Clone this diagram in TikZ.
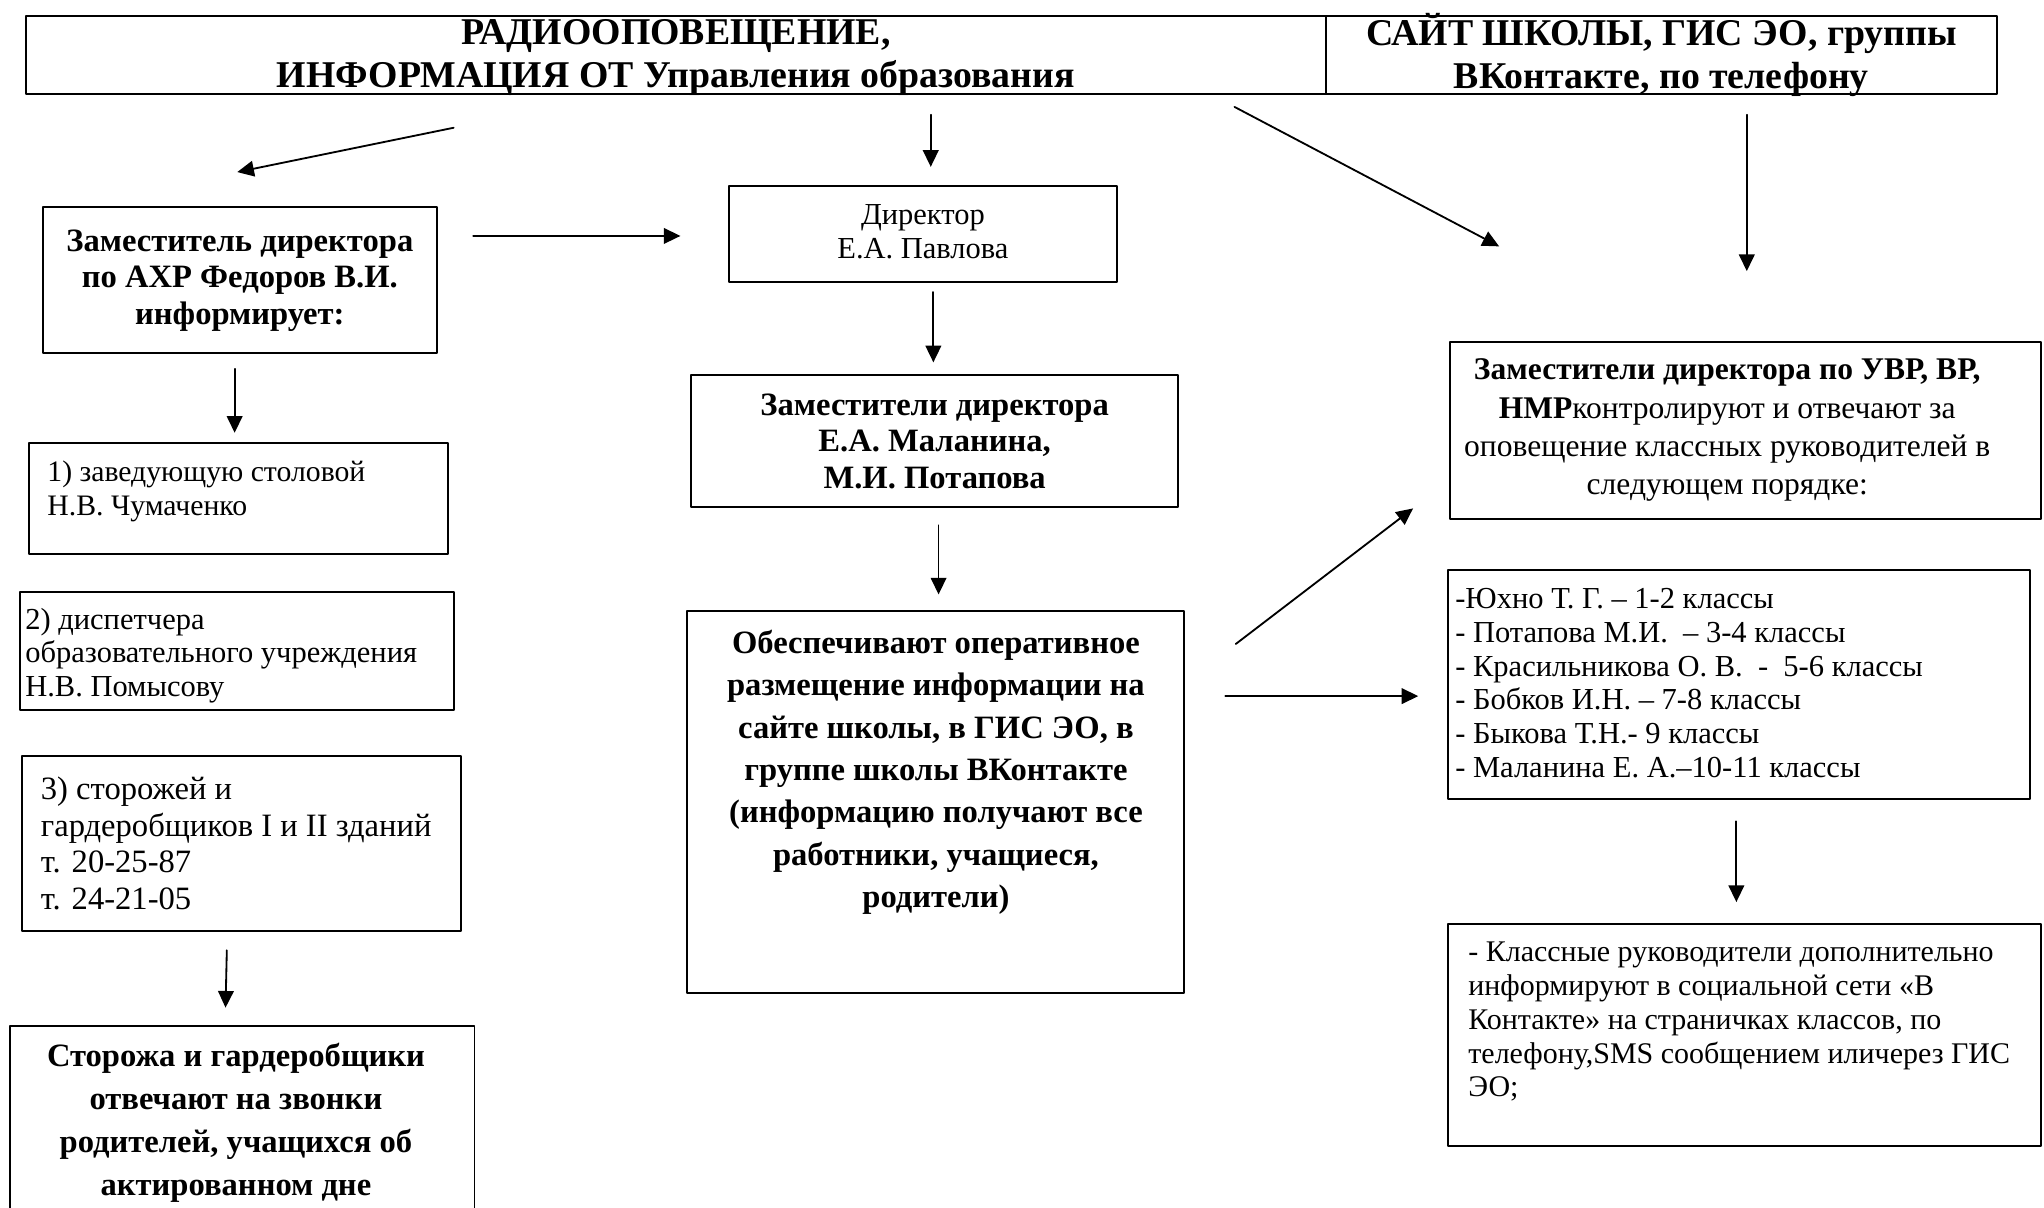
\documentclass[tikz,border=0pt]{standalone}
\usepackage{fontspec}
\setmainfont{Liberation Serif}
\usetikzlibrary{arrows.meta,fit}

\begin{document}
\begin{tikzpicture}[line cap=round,line join=round,>={Triangle[length=6.4pt,width=6pt]},x=0.5pt,y=-0.5pt,
		box/.style={draw,line width=0.75pt,inner sep=0pt},
		big/.style={font=\fontsize{14.5}{16.5}\selectfont\bfseries},
		head/.style={font=\fontsize{12.5}{14}\selectfont\bfseries},
		plain/.style={font=\fontsize{11.7}{13}\selectfont},
		txt/.style={inner sep=0pt,align=left},
		mid/.style={inner sep=0pt,align=center},
		link/.style={->,line width=0.7pt}]
		\useasboundingbox (0,0) rectangle (1568,926);
		\clip (0,0) rectangle (1568,926);
		% top row
		\node[box,fit={(20,12) (1017,72)}] (radio) {};
		\node[mid,big,yshift=-1pt] (radiotext) at (radio.center) {РАДИООПОВЕЩЕНИЕ,\\ИНФОРМАЦИЯ ОТ Управления образования};
		\node[box,fit={(1017,12) (1532,72)}] (site) {};
		\node[mid,big] (sitetext) at (site.center) {САЙТ ШКОЛЫ, ГИС ЭО, группы\\ВКонтакте, по телефону};
		% left column
		\node[box,fit={(33,159) (335,271)}] (axr) {};
		\node[mid,head] (axrtext) at (axr.center) {Заместитель директора\\по АХР Федоров В.И.\\информирует:};
		\node[box,fit={(22,340) (344,425)}] (canteen) {};
		\node[txt,font=\fontsize{11.4}{13.3}\selectfont,anchor=north west] (canteentext) at (36,353) {1) заведующую столовой\\Н.В. Чумаченко};
		\node[box,fit={(15,454) (348,545)}] (dispatch) {};
		\node[txt,plain,anchor=west] (dispatchtext) at (19,503) {2) диспетчера\\образовательного учреждения\\Н.В. Помысову};
		\node[box,fit={(17,580) (354,714)}] (guards) {};
		\node[txt,font=\fontsize{12.5}{14}\selectfont,anchor=west] (guardstext) at (31,647) {3) сторожей и\\гардеробщиков I и II зданий\\т. 20-25-87\\т. 24-21-05};
		\node[box,fit={(8,787) (364,1000)}] (answer) {};
		\node[mid,font=\fontsize{12.5}{16.5}\selectfont\bfseries,anchor=north] (answertext) at (181,800) {Сторожа и гардеробщики\\отвечают на звонки\\родителей, учащихся об\\актированном дне};
		% middle column
		\node[box,fit={(559,143) (857,216)}] (director) {};
		\node[mid,plain,yshift=1pt] (directortext) at (director.center) {Директор\\Е.А. Павлова};
		\node[box,fit={(530,288) (904,389)}] (deputies) {};
		\node[mid,head] (deputiestext) at (deputies.center) {Заместители директора\\Е.А. Маланина,\\М.И. Потапова};
		\node[box,fit={(527,469) (908,762)}] (publish) {};
		\node[mid,font=\fontsize{12.5}{16.25}\selectfont\bfseries,anchor=north] (publishtext) at (718,483) {Обеспечивают оперативное\\размещение информации на\\сайте школы, в ГИС ЭО, в\\группе школы ВКонтакте\\(информацию получают все\\работники, учащиеся,\\родители)};
		% right column
		\node[box,fit={(1112,262) (1566,398)}] (uvr) {};
		\node[mid,font=\fontsize{12.1}{14.65}\selectfont,xshift=-7pt] (uvrtext) at (uvr.center) {\textbf{Заместители директора по УВР, ВР,}\\\textbf{НМР}контролируют и отвечают за\\оповещение классных руководителей в\\следующем порядке:};
		\node[box,fit={(1111,437) (1557,613)}] (classes) {};
		\node[txt,plain,anchor=west] (classestext) at (1116,524) {-Юхно Т. Г. – 1-2 классы\\- Потапова М.И. \ – 3-4 классы\\- Красильникова О. В. \ - \ 5-6 классы\\- Бобков И.Н. – 7-8 классы\\- Быкова Т.Н.- 9 классы\\- Маланина Е. А.–10-11 классы};
		\node[box,fit={(1111,709) (1566,879)}] (extra) {};
		\node[txt,font=\fontsize{11.5}{13}\selectfont,anchor=north west] (extratext) at (1126,722) {- Классные руководители дополнительно\\информируют в социальной сети «В\\Контакте» на страничках классов, по\\телефону,SMS сообщением иличерез ГИС\\ЭО;};
		% arrow ends
		\coordinate (radio-l) at (348,98);
		\coordinate (axr-in) at (182,132);
		\coordinate (radio-m) at (714,88);
		\coordinate (director-in) at (714,128);
		\coordinate (radio-r) at (947,82);
		\coordinate (uvr-in1) at (1150,189);
		\coordinate (site-out) at (1340,88);
		\coordinate (uvr-in2) at (1340,208);
		\coordinate (axr-out) at (363,181);
		\coordinate (director-l) at (522,181);
		\coordinate (director-out) at (716,224);
		\coordinate (deputies-in) at (716,278);
		\coordinate (axr-down) at (180,283);
		\coordinate (canteen-in) at (180,332);
		\coordinate (deputies-out) at (720,403);
		\coordinate (publish-in) at (720,456);
		\coordinate (publish-up) at (948,494);
		\coordinate (uvr-in3) at (1084,390);
		\coordinate (publish-r) at (940,534);
		\coordinate (classes-in) at (1088,534);
		\coordinate (classes-out) at (1332,630);
		\coordinate (extra-in) at (1332,692);
		\coordinate (guards-out) at (174,729);
		\coordinate (answer-in) at (173,773);
		\draw[link] (radio-l) -- (axr-in);
		\draw[link] (radio-m) -- (director-in);
		\draw[link] (radio-r) -- (uvr-in1);
		\draw[link] (site-out) -- (uvr-in2);
		\draw[link] (axr-out) -- (director-l);
		\draw[link] (director-out) -- (deputies-in);
		\draw[link] (axr-down) -- (canteen-in);
		\draw[link] (deputies-out) -- (publish-in);
		\draw[link] (publish-up) -- (uvr-in3);
		\draw[link] (publish-r) -- (classes-in);
		\draw[link] (classes-out) -- (extra-in);
		\draw[link] (guards-out) -- (answer-in);
	\end{tikzpicture}
\end{document}
